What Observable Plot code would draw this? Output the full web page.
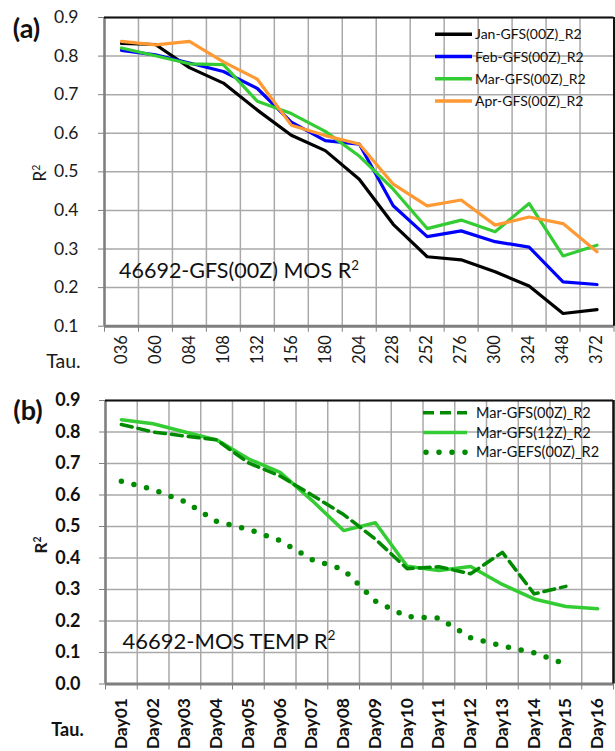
<!DOCTYPE html>
<html><head><meta charset="utf-8">
<script src="https://cdn.jsdelivr.net/npm/d3@7"></script>
<script src="https://cdn.jsdelivr.net/npm/@observablehq/plot@0.6"></script>
<style>
body{margin:0;background:#fff;}
#wrap{position:relative;width:615px;height:751px;overflow:hidden;font-family:Lato,"Open Sans",sans-serif;}
svg{display:block}
</style></head><body><div id="wrap"></div>
<script>
// ---- Panel (a) data ----
const tauLabels = ["036","060","084","108","132","156","180","204","228","252","276","300","324","348","372"];
const seriesNamesA = ["Jan-GFS(00Z)_R2","Feb-GFS(00Z)_R2","Mar-GFS(00Z)_R2","Apr-GFS(00Z)_R2"];
const seriesColorsA = ["#000000","#0000ff","#33cc33","#ff9933"];
const janR2 = [0.833,0.830,0.770,0.730,0.660,0.595,0.555,0.481,0.364,0.280,0.272,0.241,0.204,0.133,0.143];
const febR2 = [0.815,0.803,0.782,0.760,0.716,0.629,0.581,0.572,0.412,0.332,0.347,0.319,0.305,0.215,0.208];
const marR2 = [0.821,0.801,0.780,0.778,0.683,0.651,0.605,0.541,0.455,0.353,0.375,0.345,0.418,0.282,0.310];
const aprR2 = [0.838,0.829,0.838,0.785,0.740,0.621,0.594,0.572,0.468,0.412,0.427,0.362,0.383,0.366,0.293];
const yTicksA = [0.1,0.2,0.3,0.4,0.5,0.6,0.7,0.8,0.9];

// ---- Panel (b) data ----
const dayLabels = ["Day01","Day02","Day03","Day04","Day05","Day06","Day07","Day08","Day09","Day10","Day11","Day12","Day13","Day14","Day15","Day16"];
const seriesNamesB = ["Mar-GFS(00Z)_R2","Mar-GFS(12Z)_R2","Mar-GEFS(00Z)_R2"];
const seriesColorsB = ["#008a00","#33cc33","#008a00"];
const marGfs00 = [0.824,0.800,0.787,0.775,0.702,0.660,0.600,0.538,0.460,0.366,0.372,0.350,0.418,0.286,0.310,null];
const marGfs12 = [0.839,0.826,0.800,0.775,0.715,0.672,0.583,0.487,0.512,0.374,0.360,0.373,0.316,0.270,0.246,0.239];
const marGefs00 = [0.644,0.617,0.579,0.516,0.491,0.455,0.395,0.363,0.263,0.214,0.209,0.147,0.121,0.099,0.063,null];
const yTicksB = [0.0,0.1,0.2,0.3,0.4,0.5,0.6,0.7,0.8,0.9];

const wrap = document.getElementById("wrap");
const fmt = d3.format(".1f");
const GRID = "#a9a9a9", AXIS = "#7f7f7f";

function rows(names, arrays) {
  return names.flatMap((n, k) => arrays[k].map((v, i) => ({name: n, i, v})).filter(d => d.v != null));
}

// ---------- Panel (a) ----------
const rowsA = rows(seriesNamesA, [janR2, febR2, marR2, aprR2]);
const idxA = tauLabels.map((d, i) => i);
const bndA = d3.range(tauLabels.length + 1).map(i => i - 0.5);
const plotA = Plot.plot({
  width: 615, height: 385,
  marginLeft: 104, marginRight: 1.5, marginTop: 17, marginBottom: 59.3,
  x: {type: "linear", domain: [bndA[0], bndA[bndA.length - 1]]},
  y: {domain: [yTicksA[0], yTicksA[yTicksA.length - 1]]},
  color: {domain: seriesNamesA, range: seriesColorsA},
  style: {fontFamily: "Lato, sans-serif", color: "#1a1a1a", background: "white", overflow: "visible"},
  marks: [
    Plot.gridX(bndA, {stroke: GRID, strokeOpacity: 1, strokeWidth: 1.5}),
    Plot.gridY(yTicksA, {stroke: GRID, strokeOpacity: 1, strokeWidth: 1.5}),
    Plot.line(rowsA, {x: "i", y: "v", z: "name", stroke: "name", strokeWidth: 3.2}),
    Plot.axisY(yTicksA, {tickSize: 6, tickPadding: 20, tickFormat: fmt, fontSize: 17.5, stroke: AXIS, label: null}),
    Plot.axisX(bndA, {tickSize: 6, tickFormat: () => "", stroke: AXIS, label: null}),
    Plot.axisX(idxA, {tickSize: 0, tickPadding: 9, tickRotate: -90, tickFormat: i => tauLabels[i], fontSize: 16.5, label: null}),
    Plot.ruleX([bndA[0]], {stroke: AXIS, strokeWidth: 2.5}),
    Plot.ruleY([yTicksA[0]], {stroke: AXIS, strokeWidth: 3}),
    Plot.ruleY([yTicksA[yTicksA.length - 1]], {stroke: "#111", strokeWidth: 2}),
    Plot.ruleX([bndA[bndA.length - 1]], {stroke: "#111", strokeWidth: 2})
  ]
});
wrap.appendChild(plotA);

// ---------- Panel (b) ----------
const idxB = dayLabels.map((d, i) => i);
const bndB = d3.range(dayLabels.length + 1).map(i => i - 0.5);
const rB00 = rows([seriesNamesB[0]], [marGfs00]);
const rB12 = rows([seriesNamesB[1]], [marGfs12]);
const rBef = rows([seriesNamesB[2]], [marGefs00]);
const plotB = Plot.plot({
  width: 615, height: 366,
  marginLeft: 105, marginRight: 2, marginTop: 15, marginBottom: 67.5,
  x: {type: "linear", domain: [bndB[0], bndB[bndB.length - 1]]},
  y: {domain: [yTicksB[0], yTicksB[yTicksB.length - 1]]},
  style: {fontFamily: "Lato, sans-serif", color: "#111", background: "white", overflow: "visible"},
  marks: [
    Plot.gridX(bndB, {stroke: GRID, strokeOpacity: 1, strokeWidth: 1.5}),
    Plot.gridY(yTicksB, {stroke: GRID, strokeOpacity: 1, strokeWidth: 1.5}),
    Plot.line(rB12, {x: "i", y: "v", stroke: seriesColorsB[1], strokeWidth: 3.5}),
    Plot.line(rB00, {x: "i", y: "v", stroke: seriesColorsB[0], strokeWidth: 3.5, strokeDasharray: "11,6"}),
    Plot.line(rBef, {x: "i", y: "v", stroke: seriesColorsB[2], strokeWidth: 5.5, strokeDasharray: "0,13", strokeLinecap: "round"}),
    Plot.axisY(yTicksB, {tickSize: 6, tickPadding: 19, tickFormat: fmt, fontSize: 18, fontWeight: "bold", stroke: AXIS, label: null}),
    Plot.axisX(bndB, {tickSize: 6, tickFormat: () => "", stroke: AXIS, label: null}),
    Plot.axisX(idxB, {tickSize: 0, tickPadding: 14, tickRotate: -90, tickFormat: i => dayLabels[i], fontSize: 17.5, fontWeight: "bold", label: null}),
    Plot.ruleX([bndB[0]], {stroke: AXIS, strokeWidth: 2.5}),
    Plot.ruleY([yTicksB[0]], {stroke: AXIS, strokeWidth: 3}),
    Plot.ruleY([yTicksB[yTicksB.length - 1]], {stroke: "#111", strokeWidth: 2}),
    Plot.ruleX([bndB[bndB.length - 1]], {stroke: "#111", strokeWidth: 2.5})
  ]
});
wrap.appendChild(plotB);

// ---------- Annotations & legends ----------
function addText(svg, x, y, txt, opts = {}) {
  const size = opts.size || 16;
  const t = d3.select(svg).append("text").attr("x", x).attr("y", y)
    .attr("font-family", "Lato, sans-serif").attr("font-size", size)
    .attr("font-weight", opts.weight || "normal").attr("fill", opts.fill || "#1a1a1a")
    .attr("text-anchor", opts.anchor || "start");
  if (opts.rotate) t.attr("transform", `rotate(${opts.rotate},${x},${y})`);
  if (opts.sup) {
    t.append("tspan").text(txt);
    t.append("tspan").attr("font-size", size * 0.62).attr("dy", -size * 0.38).text(opts.sup);
  } else t.text(txt);
  return t;
}
const sA = plotA, sB = plotB;
addText(sA, 26.5, 38, "(a)", {size: 27, weight: "bold", anchor: "middle", fill: "#111"});
addText(sA, 46, 173, "R", {size: 17, rotate: -90, anchor: "middle", sup: "2"});
addText(sA, 63.5, 368, "Tau.", {size: 19.5, anchor: "middle"});
addText(sA, 119, 278, "46692-GFS(00Z) MOS R", {size: 21.5, sup: "2", fill: "#111"});
const legA = d3.select(sA).append("g");
seriesNamesA.forEach((n, k) => {
  const y = 34.3 + k * 22.2;
  legA.append("line").attr("x1", 435).attr("x2", 472).attr("y1", y).attr("y2", y)
    .attr("stroke", seriesColorsA[k]).attr("stroke-width", 3.5);
  addText(sA, 475, y + 5, n, {size: 14, fill: "#111"});
});

addText(sB, 28, 35, "(b)", {size: 27, weight: "bold", anchor: "middle", fill: "#111"});
addText(sB, 47, 160, "R", {size: 17, weight: "bold", rotate: -90, anchor: "middle", sup: "2"});
addText(sB, 67.5, 351, "Tau.", {size: 18, weight: "bold", anchor: "middle", fill: "#111"});
addText(sB, 122.5, 263.5, "46692-MOS TEMP R", {size: 22, sup: "2", fill: "#111"});
const legB = d3.select(sB).append("g");
const dashes = ["11,6", null, "0,13"];
seriesNamesB.forEach((n, k) => {
  const y = 27.7 + k * 19.8;
  const l = legB.append("line").attr("x1", k === 2 ? 426 : 423).attr("x2", 467).attr("y1", y).attr("y2", y)
    .attr("stroke", seriesColorsB[k]).attr("stroke-width", k === 2 ? 5.5 : 3.5);
  if (dashes[k]) l.attr("stroke-dasharray", dashes[k]);
  if (k === 2) l.attr("stroke-linecap", "round");
  addText(sB, 476, y + 5, n, {size: 14.5, fill: "#111"});
});
</script>
</body></html>
